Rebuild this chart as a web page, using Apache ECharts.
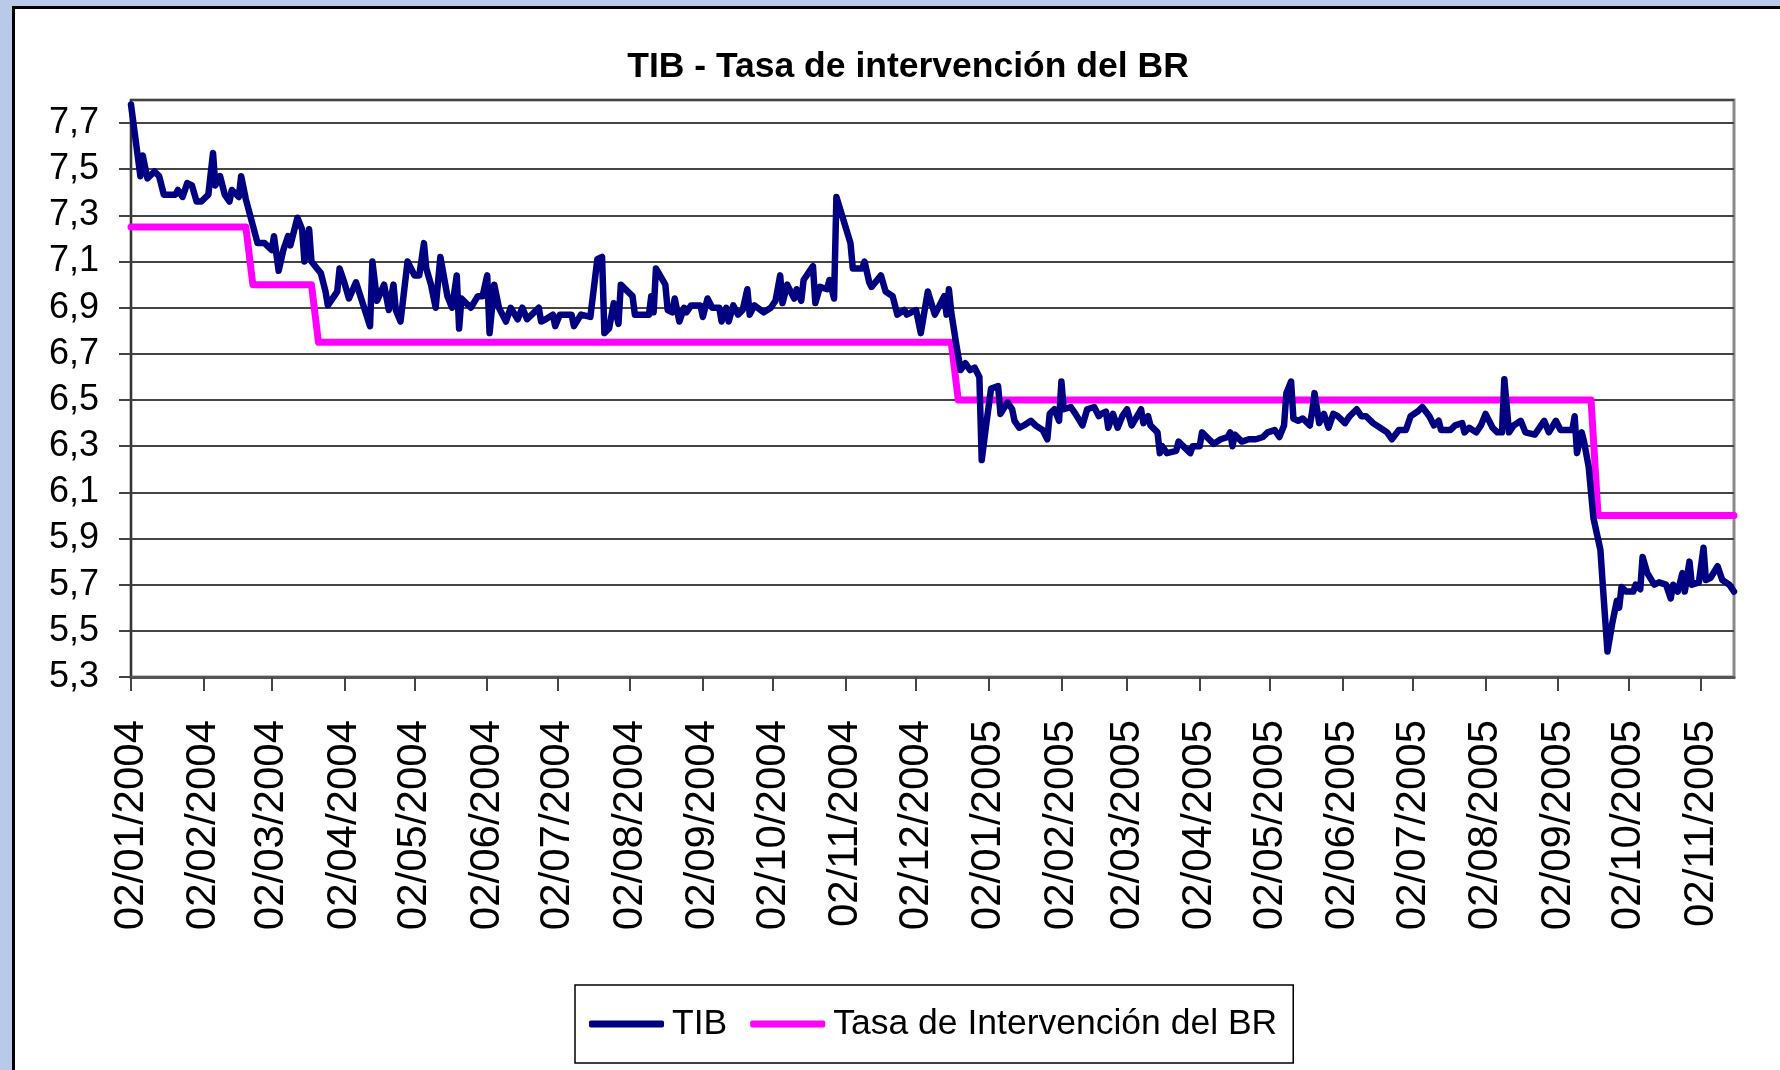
<!DOCTYPE html>
<html>
<head>
<meta charset="utf-8">
<script src="https://cdn.jsdelivr.net/npm/echarts@6/dist/echarts.min.js"></script>
<style>
  html, body { margin: 0; padding: 0; width: 1780px; height: 1070px; overflow: hidden; background: #b9c9e8; }
  #frame { position: absolute; left: 12px; top: 6px; width: 1800px; height: 1100px; background: #fff;
           border-left: 3px solid #000; border-top: 3px solid #000; }
  #chart { position: absolute; left: 0; top: 0; width: 1780px; height: 1070px; }
</style>
</head>
<body>
<div id="frame"></div>
<div id="chart"></div>
<script>
// Axis range (calendar days) and monthly tick dates
const firstDate = '2004-01-02';
const lastDate = '2005-11-16';
const monthTicks = [
  '2004-01-02', '2004-02-02', '2004-03-02', '2004-04-02', '2004-05-02', '2004-06-02',
  '2004-07-02', '2004-08-02', '2004-09-02', '2004-10-02', '2004-11-02', '2004-12-02',
  '2005-01-02', '2005-02-02', '2005-03-02', '2005-04-02', '2005-05-02', '2005-06-02',
  '2005-07-02', '2005-08-02', '2005-09-02', '2005-10-02', '2005-11-02'
];

// Y axis scale (%)
const yMin = 5.3;
const yMax = 7.8;
const yStep = 0.2;

// TIB: interbank rate, %
const tib = [
  ['2004-01-02', 7.78], ['2004-01-06', 7.47], ['2004-01-07', 7.56], ['2004-01-09', 7.46], ['2004-01-12', 7.49],
  ['2004-01-14', 7.47], ['2004-01-16', 7.39], ['2004-01-21', 7.39], ['2004-01-22', 7.41], ['2004-01-24', 7.38],
  ['2004-01-26', 7.44], ['2004-01-28', 7.43], ['2004-01-30', 7.36], ['2004-02-01', 7.36], ['2004-02-04', 7.39],
  ['2004-02-06', 7.57], ['2004-02-07', 7.43], ['2004-02-09', 7.47], ['2004-02-11', 7.39], ['2004-02-13', 7.36],
  ['2004-02-14', 7.41], ['2004-02-17', 7.38], ['2004-02-18', 7.47], ['2004-02-20', 7.37], ['2004-02-25', 7.18],
  ['2004-02-28', 7.18], ['2004-03-02', 7.15], ['2004-03-03', 7.21], ['2004-03-05', 7.06], ['2004-03-07', 7.15],
  ['2004-03-09', 7.21], ['2004-03-10', 7.17], ['2004-03-13', 7.29], ['2004-03-15', 7.24], ['2004-03-16', 7.10],
  ['2004-03-18', 7.24], ['2004-03-19', 7.10], ['2004-03-23', 7.05], ['2004-03-25', 6.97], ['2004-03-26', 6.91],
  ['2004-03-30', 6.97], ['2004-03-31', 7.07], ['2004-04-02', 7.01], ['2004-04-04', 6.94], ['2004-04-07', 7.01],
  ['2004-04-13', 6.82], ['2004-04-14', 7.10], ['2004-04-16', 6.93], ['2004-04-19', 7.00], ['2004-04-21', 6.89],
  ['2004-04-23', 7.00], ['2004-04-24', 6.89], ['2004-04-26', 6.84], ['2004-04-29', 7.10], ['2004-05-02', 7.04],
  ['2004-05-04', 7.04], ['2004-05-06', 7.18], ['2004-05-07', 7.07], ['2004-05-09', 7.00], ['2004-05-11', 6.90],
  ['2004-05-13', 7.12], ['2004-05-16', 6.95], ['2004-05-18', 6.90], ['2004-05-20', 7.04], ['2004-05-21', 6.81],
  ['2004-05-22', 6.94], ['2004-05-26', 6.90], ['2004-05-29', 6.95], ['2004-05-31', 6.95], ['2004-06-02', 7.04],
  ['2004-06-03', 6.79], ['2004-06-05', 7.00], ['2004-06-07', 6.90], ['2004-06-10', 6.84], ['2004-06-12', 6.90],
  ['2004-06-15', 6.85], ['2004-06-17', 6.90], ['2004-06-19', 6.85], ['2004-06-22', 6.88], ['2004-06-24', 6.90],
  ['2004-06-25', 6.84], ['2004-06-27', 6.85], ['2004-06-30', 6.87], ['2004-07-01', 6.82], ['2004-07-03', 6.87],
  ['2004-07-08', 6.87], ['2004-07-09', 6.82], ['2004-07-12', 6.87], ['2004-07-16', 6.86], ['2004-07-19', 7.11],
  ['2004-07-21', 7.12], ['2004-07-22', 6.79], ['2004-07-24', 6.81], ['2004-07-26', 6.92], ['2004-07-28', 6.83],
  ['2004-07-29', 7.00], ['2004-08-01', 6.97], ['2004-08-03', 6.95], ['2004-08-04', 6.87], ['2004-08-06', 6.87],
  ['2004-08-10', 6.87], ['2004-08-11', 6.95], ['2004-08-12', 6.88], ['2004-08-13', 7.07], ['2004-08-17', 7.00],
  ['2004-08-18', 6.89], ['2004-08-20', 6.88], ['2004-08-21', 6.94], ['2004-08-23', 6.84], ['2004-08-25', 6.90],
  ['2004-08-26', 6.88], ['2004-08-28', 6.91], ['2004-09-01', 6.91], ['2004-09-02', 6.86], ['2004-09-04', 6.94],
  ['2004-09-06', 6.90], ['2004-09-09', 6.90], ['2004-09-10', 6.84], ['2004-09-12', 6.90], ['2004-09-13', 6.84],
  ['2004-09-15', 6.91], ['2004-09-17', 6.87], ['2004-09-19', 6.89], ['2004-09-21', 6.98], ['2004-09-22', 6.87],
  ['2004-09-24', 6.91], ['2004-09-28', 6.88], ['2004-10-01', 6.90], ['2004-10-03', 6.93], ['2004-10-05', 7.04],
  ['2004-10-06', 6.92], ['2004-10-08', 7.00], ['2004-10-11', 6.94], ['2004-10-12', 6.98], ['2004-10-14', 6.93],
  ['2004-10-15', 7.02], ['2004-10-19', 7.08], ['2004-10-20', 6.92], ['2004-10-22', 6.99], ['2004-10-25', 6.98],
  ['2004-10-26', 7.02], ['2004-10-28', 6.94], ['2004-10-29', 7.38], ['2004-11-04', 7.18], ['2004-11-05', 7.07],
  ['2004-11-09', 7.07], ['2004-11-10', 7.10], ['2004-11-12', 7.01], ['2004-11-13', 6.99], ['2004-11-17', 7.04],
  ['2004-11-19', 6.97], ['2004-11-22', 6.95], ['2004-11-24', 6.87], ['2004-11-27', 6.89], ['2004-11-28', 6.87],
  ['2004-12-02', 6.89], ['2004-12-04', 6.79], ['2004-12-07', 6.97], ['2004-12-10', 6.87], ['2004-12-14', 6.95],
  ['2004-12-15', 6.87], ['2004-12-16', 6.98], ['2004-12-17', 6.88], ['2004-12-19', 6.75], ['2004-12-21', 6.63],
  ['2004-12-23', 6.66], ['2004-12-25', 6.63], ['2004-12-27', 6.64], ['2004-12-29', 6.60], ['2004-12-30', 6.24],
  ['2005-01-01', 6.40], ['2005-01-03', 6.55], ['2005-01-06', 6.56], ['2005-01-07', 6.44], ['2005-01-10', 6.49],
  ['2005-01-12', 6.46], ['2005-01-13', 6.41], ['2005-01-15', 6.38], ['2005-01-17', 6.39], ['2005-01-20', 6.41],
  ['2005-01-22', 6.39], ['2005-01-25', 6.37], ['2005-01-27', 6.33], ['2005-01-28', 6.44], ['2005-01-30', 6.46],
  ['2005-02-01', 6.41], ['2005-02-02', 6.58], ['2005-02-03', 6.46], ['2005-02-06', 6.47], ['2005-02-08', 6.44],
  ['2005-02-11', 6.39], ['2005-02-13', 6.46], ['2005-02-16', 6.47], ['2005-02-18', 6.43], ['2005-02-19', 6.44],
  ['2005-02-21', 6.45], ['2005-02-22', 6.38], ['2005-02-24', 6.44], ['2005-02-26', 6.38], ['2005-02-28', 6.43],
  ['2005-03-02', 6.46], ['2005-03-04', 6.39], ['2005-03-08', 6.46], ['2005-03-09', 6.40], ['2005-03-11', 6.43],
  ['2005-03-12', 6.39], ['2005-03-15', 6.36], ['2005-03-16', 6.27], ['2005-03-17', 6.30], ['2005-03-19', 6.27],
  ['2005-03-23', 6.28], ['2005-03-24', 6.32], ['2005-03-29', 6.27], ['2005-03-30', 6.30], ['2005-04-02', 6.30],
  ['2005-04-03', 6.36], ['2005-04-06', 6.33], ['2005-04-08', 6.31], ['2005-04-11', 6.33], ['2005-04-14', 6.34],
  ['2005-04-15', 6.36], ['2005-04-16', 6.30], ['2005-04-17', 6.35], ['2005-04-20', 6.32], ['2005-04-23', 6.33],
  ['2005-04-26', 6.33], ['2005-04-29', 6.34], ['2005-05-01', 6.36], ['2005-05-04', 6.37], ['2005-05-06', 6.34],
  ['2005-05-08', 6.39], ['2005-05-09', 6.53], ['2005-05-11', 6.58], ['2005-05-12', 6.42], ['2005-05-14', 6.41],
  ['2005-05-16', 6.42], ['2005-05-19', 6.39], ['2005-05-20', 6.45], ['2005-05-21', 6.53], ['2005-05-23', 6.40],
  ['2005-05-25', 6.44], ['2005-05-27', 6.38], ['2005-05-29', 6.44], ['2005-05-31', 6.43], ['2005-06-03', 6.40],
  ['2005-06-05', 6.43], ['2005-06-08', 6.46], ['2005-06-10', 6.43], ['2005-06-12', 6.43], ['2005-06-15', 6.40],
  ['2005-06-18', 6.38], ['2005-06-21', 6.36], ['2005-06-23', 6.33], ['2005-06-26', 6.37], ['2005-06-29', 6.37],
  ['2005-07-01', 6.43], ['2005-07-04', 6.45], ['2005-07-05', 6.46], ['2005-07-06', 6.47], ['2005-07-09', 6.43],
  ['2005-07-11', 6.39], ['2005-07-13', 6.41], ['2005-07-14', 6.37], ['2005-07-18', 6.37], ['2005-07-20', 6.39],
  ['2005-07-23', 6.40], ['2005-07-24', 6.36], ['2005-07-26', 6.38], ['2005-07-29', 6.36], ['2005-07-31', 6.39],
  ['2005-08-02', 6.44], ['2005-08-05', 6.38], ['2005-08-07', 6.36], ['2005-08-09', 6.36], ['2005-08-10', 6.59],
  ['2005-08-12', 6.36], ['2005-08-14', 6.39], ['2005-08-17', 6.41], ['2005-08-19', 6.36], ['2005-08-23', 6.35],
  ['2005-08-27', 6.41], ['2005-08-29', 6.36], ['2005-09-01', 6.41], ['2005-09-03', 6.37], ['2005-09-08', 6.37],
  ['2005-09-09', 6.43], ['2005-09-10', 6.27], ['2005-09-12', 6.36], ['2005-09-13', 6.32], ['2005-09-15', 6.21],
  ['2005-09-17', 5.99], ['2005-09-20', 5.85], ['2005-09-21', 5.70], ['2005-09-23', 5.41], ['2005-09-25', 5.53],
  ['2005-09-27', 5.63], ['2005-09-28', 5.60], ['2005-09-29', 5.69], ['2005-10-01', 5.67], ['2005-10-04', 5.67],
  ['2005-10-05', 5.70], ['2005-10-07', 5.68], ['2005-10-08', 5.82], ['2005-10-10', 5.75], ['2005-10-13', 5.70],
  ['2005-10-15', 5.71], ['2005-10-18', 5.70], ['2005-10-20', 5.64], ['2005-10-21', 5.70], ['2005-10-23', 5.67],
  ['2005-10-25', 5.75], ['2005-10-26', 5.67], ['2005-10-28', 5.80], ['2005-10-29', 5.70], ['2005-11-01', 5.71],
  ['2005-11-03', 5.86], ['2005-11-04', 5.72], ['2005-11-06', 5.73], ['2005-11-09', 5.78], ['2005-11-11', 5.72],
  ['2005-11-14', 5.70], ['2005-11-16', 5.67]
];

// Banco de la República intervention rate, %
const br = [
  ['2004-01-02', 7.25], ['2004-02-20', 7.25], ['2004-02-23', 7.00], ['2004-03-19', 7.00], ['2004-03-22', 6.75],
  ['2004-12-17', 6.75], ['2004-12-20', 6.50], ['2005-09-16', 6.50], ['2005-09-19', 6.00], ['2005-11-16', 6.00]
];

const seriesNames = ['TIB', 'Tasa de Intervención del BR'];
const titleText = 'TIB - Tasa de intervención del BR';

// Dates are placed on a linear axis counted in calendar days from the first date
const DAY_MS = 86400000;
function toUTC(s) { const p = s.split('-').map(Number); return Date.UTC(p[0], p[1] - 1, p[2]); }
const t0 = toUTC(firstDate);
function dayIndex(s) { return Math.round((toUTC(s) - t0) / DAY_MS); }
function fmtDay(d) {
  const dt = new Date(t0 + d * DAY_MS);
  const dd = String(dt.getUTCDate()).padStart(2, '0');
  const mm = String(dt.getUTCMonth() + 1).padStart(2, '0');
  return dd + '/' + mm + '/' + dt.getUTCFullYear();
}
const tickDays = monthTicks.map(dayIndex);

const sans = "'Liberation Sans', Arial, sans-serif";

const chart = echarts.init(document.getElementById('chart'), null, { renderer: 'canvas' });
chart.setOption({
  backgroundColor: 'transparent',
  animation: false,
  title: {
    text: titleText,
    left: 903,
    top: 44,
    textAlign: 'center',
    textStyle: { fontFamily: sans, fontSize: 35.5, fontWeight: 'bold', color: '#000' }
  },
  legend: {
    data: seriesNames,
    left: 575,
    top: 985,
    orient: 'horizontal',
    padding: [17, 16, 17, 14],
    itemGap: 23,
    itemWidth: 75,
    itemHeight: 7,
    icon: 'roundRect',
    borderColor: '#000',
    borderWidth: 1.5,
    backgroundColor: '#fff',
    textStyle: { fontFamily: sans, fontSize: 35.5, lineHeight: 44, color: '#000', padding: [0, 0, 0, 3] }
  },
  grid: {
    left: 131, right: 46, top: 100, bottom: 393,
    show: true, borderColor: '#8a8a8a', borderWidth: 3, backgroundColor: 'transparent'
  },
  xAxis: {
    type: 'value',
    min: 0,
    max: dayIndex(lastDate),
    axisLine: { show: true, onZero: false, lineStyle: { color: '#555', width: 3 } },
    axisTick: { show: true, customValues: tickDays, length: 14, lineStyle: { color: '#444', width: 2 } },
    splitLine: { show: false },
    axisLabel: {
      customValues: tickDays,
      rotate: 90,
      margin: 43,
      fontFamily: sans,
      fontSize: 42,
      color: '#000',
      formatter: function (v) { return fmtDay(v); }
    }
  },
  yAxis: {
    type: 'value',
    min: yMin,
    max: yMax,
    interval: yStep,
    axisLine: { show: true, lineStyle: { color: '#333', width: 2 } },
    axisTick: { show: true, length: 12, lineStyle: { color: '#444', width: 2 } },
    splitLine: { show: true, lineStyle: { color: '#454545', width: 2 } },
    axisLabel: {
      margin: 32,
      showMaxLabel: false,
      fontFamily: sans,
      fontSize: 36,
      color: '#000',
      formatter: function (v) { return v.toFixed(1).replace('.', ','); }
    }
  },
  series: [
    {
      name: seriesNames[0],
      type: 'line',
      data: tib.map(function (p) { return [dayIndex(p[0]), p[1]]; }),
      symbol: 'none',
      color: '#000080',
      lineStyle: { color: '#000080', width: 6.5, cap: 'round', join: 'round' },
      z: 4
    },
    {
      name: seriesNames[1],
      type: 'line',
      data: br.map(function (p) { return [dayIndex(p[0]), p[1]]; }),
      symbol: 'none',
      color: '#ff00ff',
      lineStyle: { color: '#ff00ff', width: 7, cap: 'round', join: 'round' },
      z: 3
    }
  ]
});
</script>
</body>
</html>
